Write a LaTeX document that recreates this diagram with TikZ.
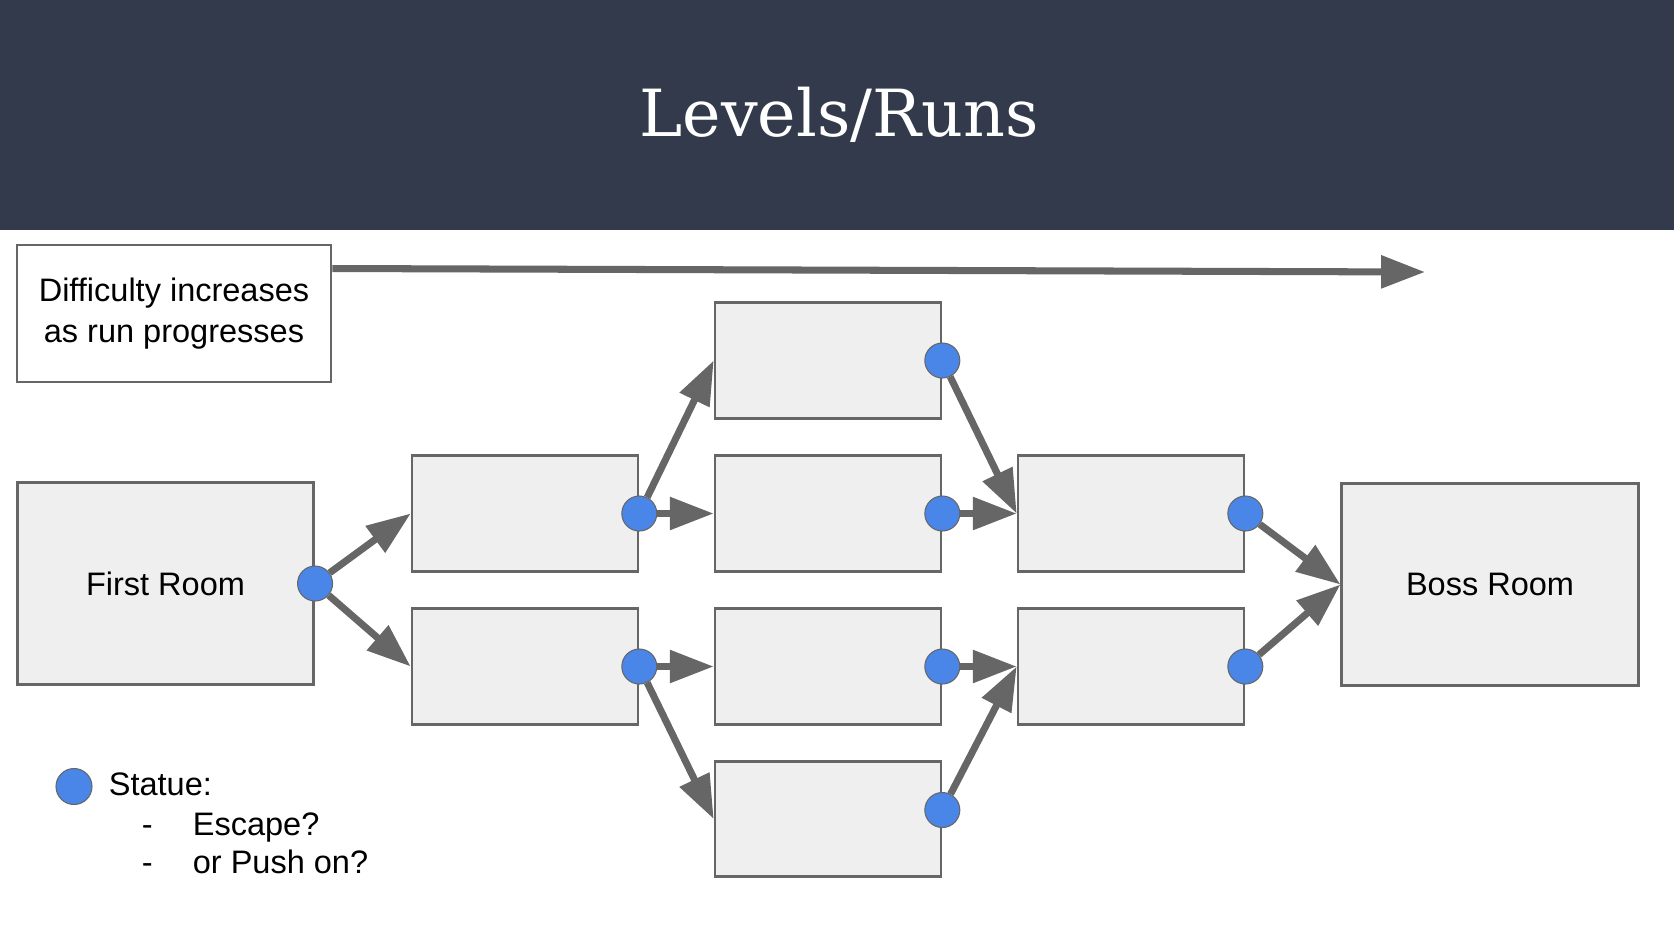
\documentclass[tikz,border=0pt]{standalone}
\usepackage{fontspec}
\setmainfont{Liberation Sans}
\newfontfamily\titlefont{DejaVu Serif}
\usepackage{tikz}
\usetikzlibrary{arrows.meta,shapes,positioning,calc}
\usepackage{xcolor}
\definecolor{lrslate}{RGB}{50,58,76}
\definecolor{lrroom}{RGB}{239,239,239}
\definecolor{lrgray}{RGB}{102,102,102}
\definecolor{lrblue}{RGB}{74,134,232}
\tikzstyle{room} = [rectangle, draw=lrgray, line width=1.5pt, fill=lrroom, minimum width=4.52cm, minimum height=2.31cm]
\tikzstyle{bigroom} = [room, minimum width=5.93cm, minimum height=4.05cm]
\tikzstyle{statue} = [circle, draw=lrgray, line width=0.6pt, fill=lrblue, minimum size=0.7cm, inner sep=0pt]
\tikzstyle{arrow} = [line width=4pt,-{Triangle[length=25pt,width=18pt]},color=lrgray]
\tikzstyle{label} = [anchor=base west, inner sep=0pt, font=\fontsize{18.5}{23}\selectfont]

\begin{document}
\begin{tikzpicture}
    \useasboundingbox (0,0) rectangle (33.48,-18.72);
    % Title bar
    \fill[lrslate] (0,0) rectangle (33.48,-4.6);
    \node[anchor=base, text=white, font=\titlefont\fontsize{37}{44}\selectfont] (title) at (16.78,-2.72) {Levels/Runs};

    % Difficulty note
    \node[rectangle, draw=lrgray, line width=1.5pt, fill=white, minimum width=6.28cm, minimum height=2.74cm, align=center, font=\fontsize{18.5}{23.5}\selectfont] (diff) at (3.48,-6.27) {Difficulty increases\\as run progresses};
    \coordinate (far) at (28.5,-5.44);

    % Rooms
    \node[bigroom, font=\fontsize{18.5}{23}\selectfont] (first) at (3.31,-11.67) {First Room};
    \node[room] (c2a) at (10.5,-10.27) {};
    \node[room] (c2b) at (10.5,-13.33) {};
    \node[room] (c3a) at (16.56,-7.21) {};
    \node[room] (c3b) at (16.56,-10.27) {};
    \node[room] (c3c) at (16.56,-13.33) {};
    \node[room] (c3d) at (16.56,-16.38) {};
    \node[room] (c4a) at (22.62,-10.27) {};
    \node[room] (c4b) at (22.62,-13.33) {};
    \node[bigroom, font=\fontsize{18.5}{23}\selectfont] (boss) at (29.8,-11.69) {Boss Room};

    % Statues
    \node[statue] (s1) at (first.east) {};
    \node[statue] (s2a) at (c2a.east) {};
    \node[statue] (s2b) at (c2b.east) {};
    \node[statue] (s3a) at (c3a.east) {};
    \node[statue] (s3b) at (c3b.east) {};
    \node[statue] (s3c) at (c3c.east) {};
    \node[statue] (s3d) at ([yshift=0.18cm]c3d.east) {};
    \node[statue] (s4a) at (c4a.east) {};
    \node[statue] (s4b) at (c4b.east) {};

    % Paths
    \draw[arrow] ([yshift=0.9cm]diff.east) -- (far);
    \draw[arrow] (s1) -- (c2a.west);
    \draw[arrow] (s1) -- (c2b.west);
    \draw[arrow] (s2a) -- (c3a.west);
    \draw[arrow] (s2a) -- (c3b.west);
    \draw[arrow] (s2b) -- (c3c.west);
    \draw[arrow] (s2b) -- (c3d.west);
    \draw[arrow] (s3a) -- (c4a.west);
    \draw[arrow] (s3b) -- (c4a.west);
    \draw[arrow] (s3c) -- (c4b.west);
    \draw[arrow] (s3d) -- (c4b.west);
    \draw[arrow] (s4a) -- (boss.west);
    \draw[arrow] (s4b) -- (boss.west);

    % Legend
    \node[statue, minimum size=0.72cm] (key) at (1.48,-15.73) {};
    \node[label] (keytext) at (2.17,-15.9) {Statue:};
    \node[label] (dash1) at (2.83,-16.7) {-};
    \node[label] (escape) at (3.85,-16.7) {Escape?};
    \node[label] (dash2) at (2.83,-17.46) {-};
    \node[label] (pushon) at (3.85,-17.46) {or Push on?};
\end{tikzpicture}
\end{document}
